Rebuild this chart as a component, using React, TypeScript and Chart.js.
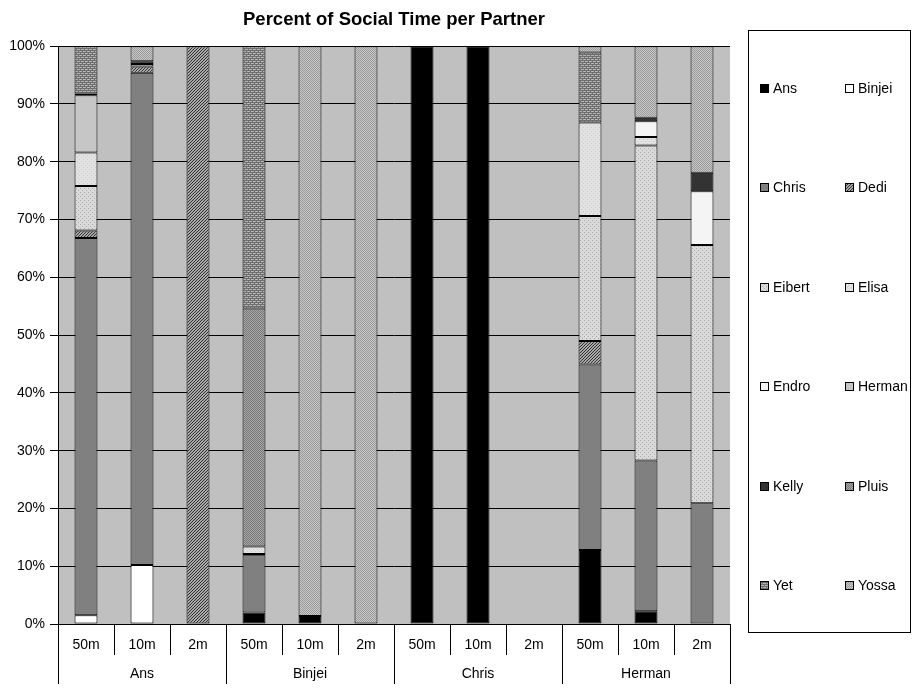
import React, { useEffect, useRef } from 'react';
import { Chart, registerables } from 'chart.js';

Chart.register(...registerables);

const FONT = 'Liberation Sans, Arial, sans-serif';

// Category tick labels (distance ranges) and the group labels beneath them
const tickLabels = ['50m', '10m', '2m', '50m', '10m', '2m', '50m', '10m', '2m', '50m', '10m', '2m'];
const groupLabels = ['Ans', 'Binjei', 'Chris', 'Herman'];
const yTickValues = [0, 10, 20, 30, 40, 50, 60, 70, 80, 90, 100];

// Series (partners), percent of social time, order: Ans 50/10/2, Binjei 50/10/2, Chris 50/10/2, Herman 50/10/2
const seriesNames = ['Ans', 'Binjei', 'Chris', 'Dedi', 'Eibert', 'Elisa', 'Endro', 'Herman', 'Kelly', 'Pluis', 'Yet', 'Yossa'];
const ans = [0, 0, 0, 2.0, 1.4, 0, 100, 100, 0, 12.8, 2.2, 0];
const binjei = [1.5, 10.2, 0, 0, 0, 0, 0, 0, 0, 0, 0, 0];
const chris = [65.3, 85.2, 0, 9.9, 0, 0, 0, 0, 0, 32.1, 26.1, 20.9];
const dedi = [1.3, 1.1, 100, 0.2, 0, 0, 0, 0, 0, 4.1, 0, 0];
const eibert = [7.7, 0, 0, 0, 0, 0, 0, 0, 0, 21.6, 54.5, 44.7];
const elisa = [5.8, 0, 0, 1.3, 0, 0, 0, 0, 0, 16.2, 1.5, 0];
const endro = [0, 0, 0, 0, 0, 0, 0, 0, 0, 0, 2.7, 9.3];
const herman = [9.9, 0.4, 0, 0, 0, 0, 0, 0, 0, 0, 0, 0];
const kelly = [0.3, 0.5, 0, 0, 0, 0, 0, 0, 0, 0, 0.6, 3.2];
const pluis = [0, 0, 0, 41.2, 0, 0, 0, 0, 0, 0, 0, 0];
const yet = [8.2, 0, 0, 45.4, 0, 0, 0, 0, 0, 12.1, 0, 0];
const yossa = [0, 2.6, 0, 0, 98.6, 100, 0, 0, 0, 1.1, 12.4, 21.9];

const seriesValues = [ans, binjei, chris, dedi, eibert, elisa, endro, herman, kelly, pluis, yet, yossa];

function tile(size: number, bg: string, pixels: Array<[number, number, string]>): CanvasPattern | string {
  const c = document.createElement('canvas');
  c.width = size;
  c.height = size;
  const g = c.getContext('2d');
  if (!g) return bg;
  g.fillStyle = bg;
  g.fillRect(0, 0, size, size);
  pixels.forEach(([x, y, col]) => {
    g.fillStyle = col;
    g.fillRect(x, y, 1, 1);
  });
  return g.createPattern(c, 'repeat') || bg;
}

function makeFills(): Array<CanvasPattern | string> {
  const dk = '#333333';
  const br = '#6e6e6e';
  return [
    '#000000', // Ans
    '#ffffff', // Binjei
    '#808080', // Chris
    tile(3, '#a8a8a8', [[0, 2, dk], [1, 1, dk], [2, 0, dk]]), // Dedi
    tile(4, '#dadada', [[0, 0, '#a8a8a8'], [2, 2, '#a8a8a8']]), // Eibert
    tile(4, '#e2e2e2', [[1, 1, '#cccccc'], [3, 3, '#cccccc']]), // Elisa
    '#f4f4f4', // Endro
    '#c6c6c6', // Herman
    '#333333', // Kelly
    tile(2, '#a8a8a8', [[0, 0, '#787878'], [1, 1, '#787878']]), // Pluis
    tile(4, '#b4b4b4', [[0, 0, br], [1, 0, br], [2, 0, br], [3, 0, br], [0, 1, br], [0, 2, br], [1, 2, br], [2, 2, br], [3, 2, br], [2, 3, br]]), // Yet
    tile(2, '#c8c8c8', [[0, 0, '#9a9a9a'], [1, 1, '#9a9a9a']]), // Yossa
  ];
}

const backgroundPlugin = {
  id: 'plotBackground',
  beforeDraw(chart: any) {
    const { ctx, chartArea } = chart;
    ctx.save();
    ctx.fillStyle = '#ffffff';
    ctx.fillRect(0, 0, chart.width, chart.height);
    ctx.fillStyle = '#c0c0c0';
    ctx.fillRect(chartArea.left, chartArea.top, chartArea.right - chartArea.left, chartArea.bottom - chartArea.top);
    ctx.restore();
  },
};

const gridLegendPlugin = {
  id: 'gridLegend',
  afterDraw(chart: any) {
    const { ctx } = chart;
    const boxL = 748.5;
    const boxT = 30.5;
    const boxR = 910.5;
    const boxB = 632.5;
    ctx.save();
    ctx.fillStyle = '#ffffff';
    ctx.fillRect(boxL, boxT, boxR - boxL, boxB - boxT);
    ctx.strokeStyle = '#000000';
    ctx.lineWidth = 1;
    ctx.strokeRect(boxL, boxT, boxR - boxL, boxB - boxT);
    ctx.font = `14px ${FONT}`;
    ctx.textBaseline = 'middle';
    ctx.textAlign = 'left';
    const rowTop = 88;
    const rowStep = 99.4;
    chart.data.datasets.forEach((ds: any, i: number) => {
      const col = i % 2;
      const row = Math.floor(i / 2);
      const sx = col === 0 ? 760 : 845;
      const cy = Math.round(rowTop + row * rowStep);
      ctx.fillStyle = ds.backgroundColor;
      ctx.fillRect(sx, cy - 4, 9, 9);
      ctx.strokeStyle = '#000000';
      ctx.strokeRect(sx + 0.5, cy - 3.5, 8, 8);
      ctx.fillStyle = '#000000';
      ctx.fillText(ds.label, sx + 13, cy + 1);
    });
    ctx.restore();
  },
};

export default function App() {
  const canvasRef = useRef<HTMLCanvasElement | null>(null);

  useEffect(() => {
    const canvas = canvasRef.current;
    if (!canvas) return;
    const fills = makeFills();
    const tickFont = { family: FONT, size: 14 };
    const chart = new Chart(canvas, {
      type: 'bar',
      data: {
        labels: tickLabels,
        datasets: seriesNames.map((name, i) => ({
          label: name,
          data: seriesValues[i].map((v) => (v === 0 ? null : v)),
          backgroundColor: fills[i] as any,
          borderColor: '#000000',
          borderWidth: 1,
          borderSkipped: false,
          categoryPercentage: 1,
          barPercentage: 0.41,
        })),
      },
      options: {
        animation: false,
        responsive: true,
        maintainAspectRatio: false,
        layout: { padding: { left: 0, right: 184, top: 0, bottom: 4 } },
        plugins: {
          legend: { display: false },
          tooltip: { enabled: false },
          title: {
            display: true,
            text: 'Percent of Social Time per Partner',
            fullSize: false,
            color: '#000000',
            font: { family: FONT, size: 18.5, weight: 'bold' },
            padding: { top: 9, bottom: 15 },
          },
        },
        scales: {
          x: {
            type: 'category',
            stacked: true,
            offset: true,
            grid: { offset: true, drawOnChartArea: false, drawTicks: true, tickLength: 31, color: '#000000' },
            border: { display: true, color: '#000000' },
            ticks: { padding: -18, font: tickFont, color: '#000000', maxRotation: 0, autoSkip: false },
            afterFit: (s: any) => {
              s.height = 31;
            },
          },
          x2: {
            type: 'category',
            labels: groupLabels,
            position: 'bottom',
            offset: true,
            grid: { offset: true, drawOnChartArea: false, drawTicks: true, tickLength: 29, color: '#000000' },
            border: { display: false },
            ticks: { padding: -18, font: tickFont, color: '#000000', maxRotation: 0, autoSkip: false },
            afterFit: (s: any) => {
              s.height = 29;
            },
          },
          y: {
            stacked: true,
            min: 0,
            max: 100,
            afterBuildTicks: (s: any) => {
              s.ticks = yTickValues.map((v) => ({ value: v }));
            },
            ticks: { callback: (v: any) => `${v}%`, padding: 5, font: tickFont, color: '#000000' },
            grid: { color: '#000000', tickLength: 8 },
            border: { color: '#000000' },
            afterFit: (s: any) => {
              s.width = 58;
            },
          },
        },
      } as any,
      plugins: [backgroundPlugin, gridLegendPlugin],
    });
    return () => chart.destroy();
  }, []);

  return (
    <div style={{ position: 'fixed', left: 0, top: 0, width: 914, height: 688, background: '#ffffff' }}>
      <canvas ref={canvasRef} />
    </div>
  );
}
